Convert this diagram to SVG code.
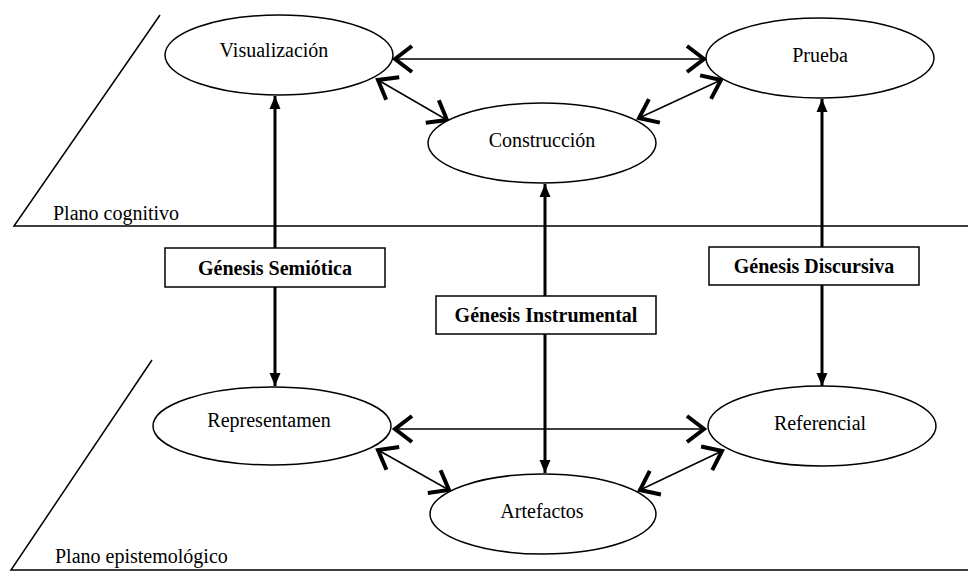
<svg xmlns="http://www.w3.org/2000/svg" width="968" height="584" viewBox="0 0 968 584">
<style>
.node ellipse{fill:#fff;stroke:#000;stroke-width:1.5}
.box rect{fill:#fff;stroke:#000;stroke-width:1.5}
text{font-family:"Liberation Serif","Times New Roman",serif;font-size:20px;fill:#000}
.lbl{text-anchor:middle}
.b{font-weight:bold;text-anchor:middle}
.plane{fill:none;stroke:#000;stroke-width:1.5}
.thin{stroke:#000;stroke-width:1.5;fill:none;marker-start:url(#chev);marker-end:url(#chev)}
.thick{stroke:#000;stroke-width:3;fill:none;marker-start:url(#tri);marker-end:url(#tri)}
</style>
<defs>
<marker id="chev" markerUnits="userSpaceOnUse" viewBox="-24 -18 28 36" refX="0" refY="0" markerWidth="28" markerHeight="36" orient="auto-start-reverse">
<path d="M-17,-13 L0,0 L-17,13" fill="none" stroke="#000" stroke-width="4"/>
</marker>
<marker id="tri" markerUnits="userSpaceOnUse" viewBox="-14 -7 15 14" refX="0" refY="0" markerWidth="15" markerHeight="14" orient="auto-start-reverse">
<path d="M-13,-5.5 L0,0 L-13,5.5 Z" fill="#000"/>
</marker>
</defs>
<g id="planes">
<polyline class="plane" points="160,15 14,226 968,226"/>
<polyline class="plane" points="152,360 11,570 968,570"/>
<text x="53" y="220">Plano cognitivo</text>
<text x="55" y="563">Plano epistemológico</text>
</g>
<g id="connectors">
<line class="thin" x1="395" y1="59" x2="704" y2="59"/>
<line class="thin" x1="378" y1="80" x2="447" y2="120"/>
<line class="thin" x1="639" y1="118" x2="721" y2="80"/>
<line class="thin" x1="395" y1="429" x2="704" y2="429"/>
<line class="thin" x1="378" y1="450" x2="449" y2="490"/>
<line class="thin" x1="640" y1="490" x2="722" y2="451"/>
<line class="thick" x1="275" y1="96" x2="275" y2="386"/>
<line class="thick" x1="822" y1="99" x2="822" y2="386"/>
<line class="thick" x1="545" y1="184" x2="545" y2="473"/>
</g>
<g id="visualizacion" class="node"><ellipse cx="279" cy="55" rx="114" ry="40"/><text class="lbl" x="274" y="57">Visualización</text></g>
<g id="prueba" class="node"><ellipse cx="820" cy="58" rx="114" ry="40"/><text class="lbl" x="820" y="62">Prueba</text></g>
<g id="construccion" class="node"><ellipse cx="542" cy="143" rx="114" ry="40"/><text class="lbl" x="542" y="147">Construcción</text></g>
<g id="representamen" class="node"><ellipse cx="272" cy="426" rx="119" ry="39"/><text class="lbl" x="269" y="427">Representamen</text></g>
<g id="referencial" class="node"><ellipse cx="822" cy="426" rx="114" ry="40"/><text class="lbl" x="820" y="430">Referencial</text></g>
<g id="artefactos" class="node"><ellipse cx="543" cy="514" rx="113" ry="40"/><text class="lbl" x="542" y="518">Artefactos</text></g>
<g id="genesis-semiotica" class="box"><rect x="165" y="248" width="220" height="39"/><text class="b" x="275" y="275">Génesis Semiótica</text></g>
<g id="genesis-discursiva" class="box"><rect x="709" y="247" width="210" height="38"/><text class="b" x="814" y="273">Génesis Discursiva</text></g>
<g id="genesis-instrumental" class="box"><rect x="436" y="296" width="220" height="38"/><text class="b" x="546" y="322">Génesis Instrumental</text></g>
</svg>
